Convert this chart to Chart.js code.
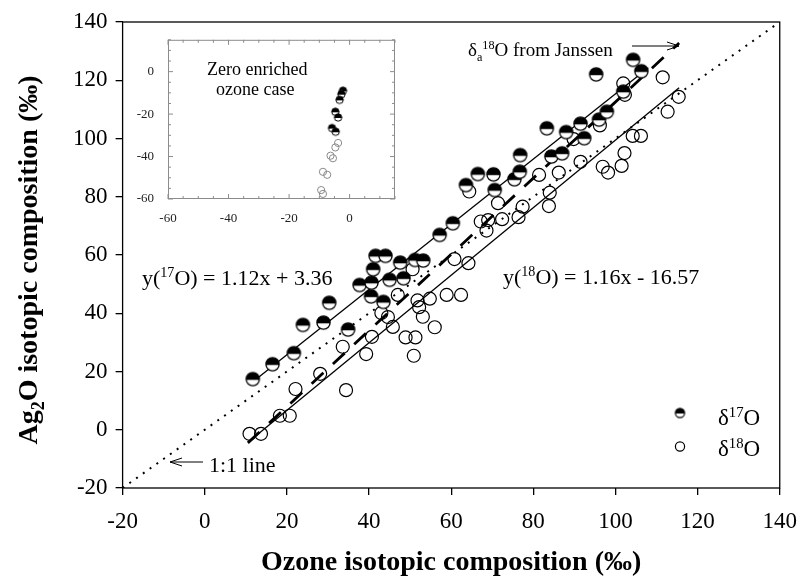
<!DOCTYPE html>
<html><head><meta charset="utf-8">
<script src="https://cdn.jsdelivr.net/npm/chart.js@4.4.0/dist/chart.umd.min.js"></script>
<style>
html,body{margin:0;padding:0;background:#fff;}
#wrap{position:relative;width:810px;height:586px;overflow:hidden;}
#main{position:absolute;left:0;top:0;}
#inset{position:absolute;left:128px;top:18px;}
</style></head><body>
<div id="wrap"><canvas id="main" width="810" height="586"></canvas><canvas id="inset" width="272" height="220"></canvas></div>
<script>
// ---------- DATA ----------
const axisTicks = [-20, 0, 20, 40, 60, 80, 100, 120, 140];
const insetTicks = [-60, -40, -20, 0];

const d17x = [11.7,16.5,21.7,23.9,28.9,30.3,34.9,37.7,40.5,43.5,40.6,45.0,41.0,41.6,44.0,47.6,48.4,51.2,53.2,57.2,60.4,63.6,66.5,70.3,70.6,75.4,76.7,76.8,83.3,84.4,87.0,88.0,91.5,92.4,95.3,96.0,97.9,101.9,104.3,106.3];
const d17y = [17.4,22.5,26.3,36.0,36.8,43.6,34.4,49.7,45.8,43.9,50.5,51.5,55.1,59.7,59.7,57.4,52.0,58.3,58.1,66.9,70.9,84.0,87.8,87.7,82.3,86.0,88.6,94.3,103.5,93.8,94.9,102.2,105.1,100.1,122.0,106.5,109.2,116.1,127.0,123.1];

const d18x = [10.9,13.7,18.3,20.7,22.1,28.1,34.4,33.6,39.3,40.7,43.0,44.6,45.8,47.0,48.9,51.3,50.9,51.8,52.2,53.1,54.8,56.0,58.9,62.4,50.6,60.8,64.2,64.4,67.2,69.0,68.6,71.4,72.4,76.4,77.4,83.8,84.0,81.4,86.2,89.8,91.5,96.9,98.2,101.5,102.2,104.2,106.2,96.2,101.9,102.3,111.5,112.7,115.4];
const d18y = [-1.4,-1.4,4.8,4.8,14.0,19.2,13.6,28.5,26.0,31.9,40.1,38.7,35.3,46.3,31.7,31.7,25.4,44.4,42.1,38.8,45.0,35.2,46.3,46.3,55.1,58.6,57.2,81.8,71.5,72.0,68.4,77.8,72.3,73.0,76.6,76.8,81.4,87.5,88.3,99.8,92.0,90.3,88.3,90.6,95.0,100.9,100.9,104.5,118.9,115.0,121.0,109.2,114.3];

// regression lines: [slope, intercept], x range
const fit17 = [1.12, 3.36], fit17X = [11.5, 108];
const fit18 = [1.16, -16.57], fit18X = [11, 115.5];
// Janssen line end points
const janssenX = [10.5, 115.5], janssenY = [-4.5, 132.8];
// 1:1 line
const oneX = [-20, 140];

// inset (zero enriched ozone case)
const in17x = [-2.2,-2.7,-3.3,-4.7,-3.8,-5.8,-4.6];
const in17y = [-9.0,-10.6,-13.3,-18.9,-21.6,-26.6,-28.3];
const in18x = [-3.8,-4.7,-6.3,-5.5,-8.8,-7.4,-9.4,-8.8];
const in18y = [-33.6,-35.7,-39.6,-40.8,-47.2,-48.6,-55.8,-57.6];

// ---------- helpers ----------
const SERIF = '"Liberation Serif", "Times New Roman", serif';
const pts = (xs, ys) => xs.map((x, i) => ({x, y: ys[i]}));
const fitPts = (f, xr) => xr.map(x => ({x, y: f[0] * x + f[1]}));

function halfMarker(r, lw, col) {
  const s = Math.ceil(2 * r + lw + 2) | 0;
  const size = s % 2 ? s : s + 1;
  const c = document.createElement('canvas'); c.width = size; c.height = size;
  const g = c.getContext('2d'); const m = size / 2;
  g.beginPath(); g.arc(m, m, r, 0, 2 * Math.PI); g.fillStyle = '#fff'; g.fill();
  g.save(); g.beginPath(); g.rect(0, 0, size, m + r * 0.12); g.clip();
  g.beginPath(); g.arc(m, m, r, 0, 2 * Math.PI); g.fillStyle = col; g.fill(); g.restore();
  g.beginPath(); g.arc(m, m, r, 0, 2 * Math.PI); g.lineWidth = lw; g.strokeStyle = col; g.stroke();
  return c;
}
const halfBig = halfMarker(6.6, 1.3, '#000');
const halfSmall = halfMarker(3.7, 1, '#000');
const halfLegend = halfMarker(4.6, 1.2, '#000');

function rich(ctx, parts, x, y, size, align, bold) {
  const w = parts.map(([t, m]) => { ctx.font = (bold ? 'bold ' : '') + (m ? size * 0.64 : size) + 'px ' + SERIF; return ctx.measureText(t).width; });
  const total = w.reduce((a, b) => a + b, 0);
  let cx = align === 'center' ? x - total / 2 : x;
  ctx.textBaseline = 'alphabetic'; ctx.textAlign = 'left';
  parts.forEach(([t, m], i) => {
    ctx.font = (bold ? 'bold ' : '') + (m ? size * 0.64 : size) + 'px ' + SERIF;
    const dy = m === 1 ? -size * 0.36 : m === 2 ? size * 0.24 : 0;
    ctx.fillText(t, cx, y + dy);
    cx += w[i];
  });
}
function arrow(ctx, x1, y, x2) { // arrow head at x2
  ctx.beginPath(); ctx.moveTo(x1, y); ctx.lineTo(x2, y);
  const d = x2 > x1 ? -1 : 1;
  ctx.moveTo(x2 + d * 12, y - 4); ctx.lineTo(x2, y); ctx.lineTo(x2 + d * 12, y + 4);
  ctx.stroke();
}

// ---------- main chart ----------
const mainDecor = {
  id: 'mainDecor',
  afterDraw(chart) {
    const {ctx, chartArea: a} = chart;
    ctx.save();
    ctx.strokeStyle = '#000'; ctx.lineWidth = 1.3;
    ctx.strokeRect(a.left, a.top, a.right - a.left, a.bottom - a.top);
    ctx.fillStyle = '#000';
    rich(ctx, [['y('], ['17', 1], ['O) = 1.12x + 3.36']], 142, 285, 22, 'left');
    rich(ctx, [['y('], ['18', 1], ['O) = 1.16x - 16.57']], 503, 284, 22, 'left');
    rich(ctx, [['δ'], ['a', 2], ['18', 1], ['O from Janssen']], 468, 56, 19, 'left');
    rich(ctx, [['1:1 line']], 209, 472, 22, 'left');
    ctx.lineWidth = 1;
    arrow(ctx, 632, 46, 679);
    arrow(ctx, 203, 462, 170);
    // legend
    ctx.drawImage(halfLegend, 680 - halfLegend.width / 2, 413 - halfLegend.height / 2);
    ctx.beginPath(); ctx.arc(680, 446.5, 4.6, 0, 2 * Math.PI); ctx.lineWidth = 1.2; ctx.stroke();
    rich(ctx, [['δ'], ['17', 1], ['O']], 718, 425, 23, 'left');
    rich(ctx, [['δ'], ['18', 1], ['O']], 718, 456, 23, 'left');
    // y title
    ctx.translate(27, 260); ctx.rotate(-Math.PI / 2);
    rich(ctx, [['Ag'], ['2', 2], ['O isotopic composition (‰)']], 0, 10, 28, 'center', true);
    ctx.restore();
  }
};

new Chart(document.getElementById('main'), {
  type: 'scatter',
  data: {
    datasets: [
      {label: 'δ17O', data: pts(d17x, d17y), pointStyle: halfBig, order: 0},
      {label: 'δ18O', data: pts(d18x, d18y), pointStyle: 'circle', pointRadius: 6.5, borderColor: '#000', borderWidth: 1.2, backgroundColor: 'rgba(0,0,0,0)', order: 0},
      {label: 'fit17', data: fitPts(fit17, fit17X), showLine: true, pointRadius: 0, borderColor: '#000', borderWidth: 1.3, order: 1},
      {label: 'fit18', data: fitPts(fit18, fit18X), showLine: true, pointRadius: 0, borderColor: '#000', borderWidth: 1.3, order: 1},
      {label: 'Janssen', data: pts(janssenX, janssenY), showLine: true, pointRadius: 0, borderColor: '#000', borderWidth: 2.8, borderDash: [16, 13], order: 1},
      {label: '1:1', data: pts(oneX, oneX), showLine: true, pointRadius: 0, borderColor: '#000', borderWidth: 2, borderDash: [2, 6.3], order: 1}
    ]
  },
  options: {
    responsive: false, animation: false, events: [],
    layout: {padding: {top: 22, right: 19.4, left: 0, bottom: 0}},
    plugins: {legend: {display: false}, tooltip: {enabled: false}},
    scales: {
      x: {
        type: 'linear', min: -20, max: 140,
        afterFit: s => { s.height = 98; },
        afterBuildTicks: s => { s.ticks = axisTicks.map(v => ({value: v})); },
        grid: {display: true, drawOnChartArea: false, drawTicks: true, tickLength: 7, color: '#000', lineWidth: 1.3},
        border: {display: false},
        ticks: {autoSkip: false, maxRotation: 0, padding: 13, color: '#000', font: {family: SERIF, size: 23}},
        title: {display: true, text: 'Ozone isotopic composition (‰)', color: '#000', font: {family: SERIF, size: 28, weight: 'bold'}, padding: {top: 0, bottom: 6}}
      },
      y: {
        type: 'linear', min: -20, max: 140,
        afterFit: s => { s.width = 122.6; },
        afterBuildTicks: s => { s.ticks = axisTicks.map(v => ({value: v})); },
        grid: {display: true, drawOnChartArea: false, drawTicks: true, tickLength: 7, color: '#000', lineWidth: 1.3},
        border: {display: false},
        ticks: {autoSkip: false, padding: 8, color: '#000', font: {family: SERIF, size: 23}}
      }
    }
  },
  plugins: [mainDecor]
});

// ---------- inset chart ----------
const insetDecor = {
  id: 'insetDecor',
  afterDraw(chart) {
    const {ctx, chartArea: a, scales: {x, y}} = chart;
    ctx.save();
    ctx.strokeStyle = '#8c8c8c'; ctx.lineWidth = 1;
    ctx.strokeRect(a.left + 0.5, a.top + 0.5, a.right - a.left - 1, a.bottom - a.top - 1);
    ctx.beginPath();
    for (let v = -60; v <= 15; v += 5) {
      const px = x.getPixelForValue(v), L = v % 20 === 0 ? 5 : 3;
      ctx.moveTo(px, a.bottom); ctx.lineTo(px, a.bottom - L);
      ctx.moveTo(px, a.top); ctx.lineTo(px, a.top + L);
      const py = y.getPixelForValue(v);
      ctx.moveTo(a.left, py); ctx.lineTo(a.left + L, py);
      ctx.moveTo(a.right, py); ctx.lineTo(a.right - L, py);
    }
    ctx.stroke();
    ctx.fillStyle = '#000';
    const cx = x.getPixelForValue(-30.5);
    rich(ctx, [['Zero enriched']], cx, a.top + 35, 18, 'center');
    rich(ctx, [['ozone case']], cx - 2, a.top + 55, 18, 'center');
    ctx.restore();
  }
};

new Chart(document.getElementById('inset'), {
  type: 'scatter',
  data: {
    datasets: [
      {label: 'δ18O', data: pts(in18x, in18y), pointStyle: 'circle', pointRadius: 3.6, borderColor: '#8a8a8a', borderWidth: 1, backgroundColor: 'rgba(0,0,0,0)'},
      {label: 'δ17O', data: pts(in17x, in17y), pointStyle: halfSmall}
    ]
  },
  options: {
    responsive: false, animation: false, events: [],
    layout: {padding: {top: 2, right: 3, left: 0, bottom: 0}},
    plugins: {legend: {display: false}, tooltip: {enabled: false}},
    scales: {
      x: {
        type: 'linear', min: -60, max: 15,
        afterFit: s => { s.height = 39; },
        afterBuildTicks: s => { s.ticks = insetTicks.map(v => ({value: v})); },
        grid: {display: false, drawTicks: false},
        border: {display: false},
        ticks: {autoSkip: false, maxRotation: 0, padding: 12, color: '#222', font: {family: SERIF, size: 13}}
      },
      y: {
        type: 'linear', min: -60, max: 15,
        afterFit: s => { s.width = 40; },
        afterBuildTicks: s => { s.ticks = insetTicks.map(v => ({value: v})); },
        grid: {display: false, drawTicks: false},
        border: {display: false},
        ticks: {autoSkip: false, padding: 14, color: '#222', font: {family: SERIF, size: 13}}
      }
    }
  },
  plugins: [insetDecor]
});
</script>
</body></html>
